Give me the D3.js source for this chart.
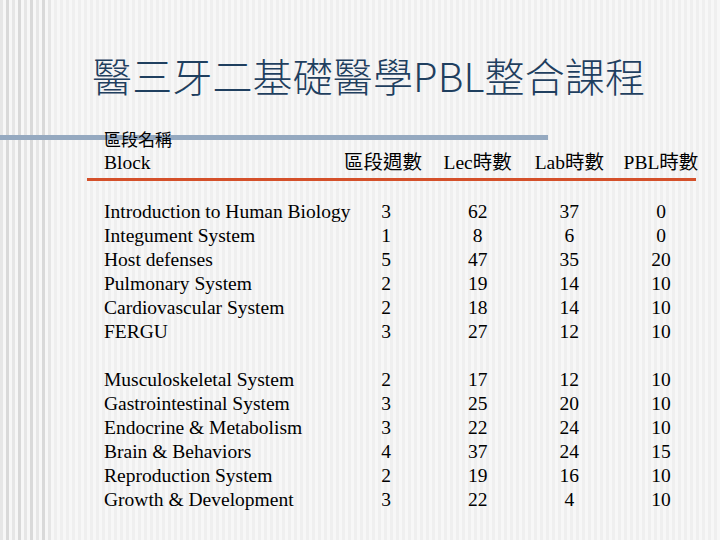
<!DOCTYPE html>
<html><head><meta charset="utf-8">
<script src="https://cdn.jsdelivr.net/npm/d3@7"></script>
<style>body{margin:0}svg{display:block}</style>
</head><body><svg></svg>
<script>
const blocks1 = ["Introduction to Human Biology","Integument System","Host defenses","Pulmonary System","Cardiovascular System","FERGU"];
const blocks2 = ["Musculoskeletal System","Gastrointestinal System","Endocrine & Metabolism","Brain & Behaviors","Reproduction System","Growth & Development"];
const weeks = [3,1,5,2,2,3, 2,3,3,4,2,3];
const lec = [62,8,47,19,18,27, 17,25,22,37,19,22];
const lab = [37,6,35,14,14,12, 12,20,24,24,16,4];
const pbl = [0,0,20,10,10,10, 10,10,10,15,10,10];
const headers = ["區段週數","Lec時數","Lab時數","PBL時數"];

const W = 720, H = 540;
const svg = d3.select("svg").attr("width", W).attr("height", H);

// striped background
svg.append("rect").attr("width", W).attr("height", H).attr("fill", "#f7f7f7");
const stripes = d3.range(0, W, 6);
svg.selectAll(".st").data(stripes).join("rect")
  .attr("x", d => d).attr("y", 0).attr("width", 3).attr("height", H)
  .attr("fill", d => d < 52 ? (d % 12 ? "#d9d9d9" : "#e6e6e6") : "#efefef");

svg.append("text").attr("x", 92).attr("y", 92)
  .attr("font-family", "Noto Sans CJK TC, sans-serif").attr("font-size", 40).attr("font-weight", 300)
  .attr("fill", "#1f3f5f").attr("textLength", 553).text("醫三牙二基礎醫學PBL整合課程");

svg.append("rect").attr("x", 0).attr("y", 135).attr("width", 548).attr("height", 5).attr("fill", "#95a9c0");
svg.append("rect").attr("x", 87).attr("y", 178).attr("width", 609).attr("height", 3).attr("fill", "#d4502a");

const font = "Liberation Serif, 'Noto Sans CJK TC', serif";
svg.append("text").attr("x", 104).attr("y", 146).attr("font-family", "Noto Sans CJK TC").attr("font-size", 17).text("區段名稱");
svg.append("text").attr("x", 104).attr("y", 169).attr("font-family", font).attr("font-size", 19.5).text("Block");

const x = d3.scalePoint().domain(d3.range(4)).range([386, 661]);
svg.selectAll(".hd").data(headers).join("text")
  .attr("x", (d, i) => x(i) + (i === 0 ? -3 : 0)).attr("y", 169).attr("text-anchor", "middle")
  .attr("font-family", font).attr("font-size", 19.5).text(d => d);

const y = d3.scaleLinear().domain([0, 1]).range([218, 242]);
const rows = blocks1.concat(blocks2).map((name, i) => ({name, i, vals: [weeks[i], lec[i], lab[i], pbl[i]]}));
const yy = i => i < 6 ? y(i) : y(i) + 24;

const g = svg.selectAll(".row").data(rows).join("g").attr("font-family", font).attr("font-size", 19.5);
g.append("text").attr("x", 104).attr("y", d => yy(d.i)).text(d => d.name);
g.selectAll(".v").data(d => d.vals).join("text")
  .attr("x", (d, j) => x(j)).attr("y", function() { return yy(d3.select(this.parentNode).datum().i); })
  .attr("text-anchor", "middle").text(d => d);
</script></body></html>
